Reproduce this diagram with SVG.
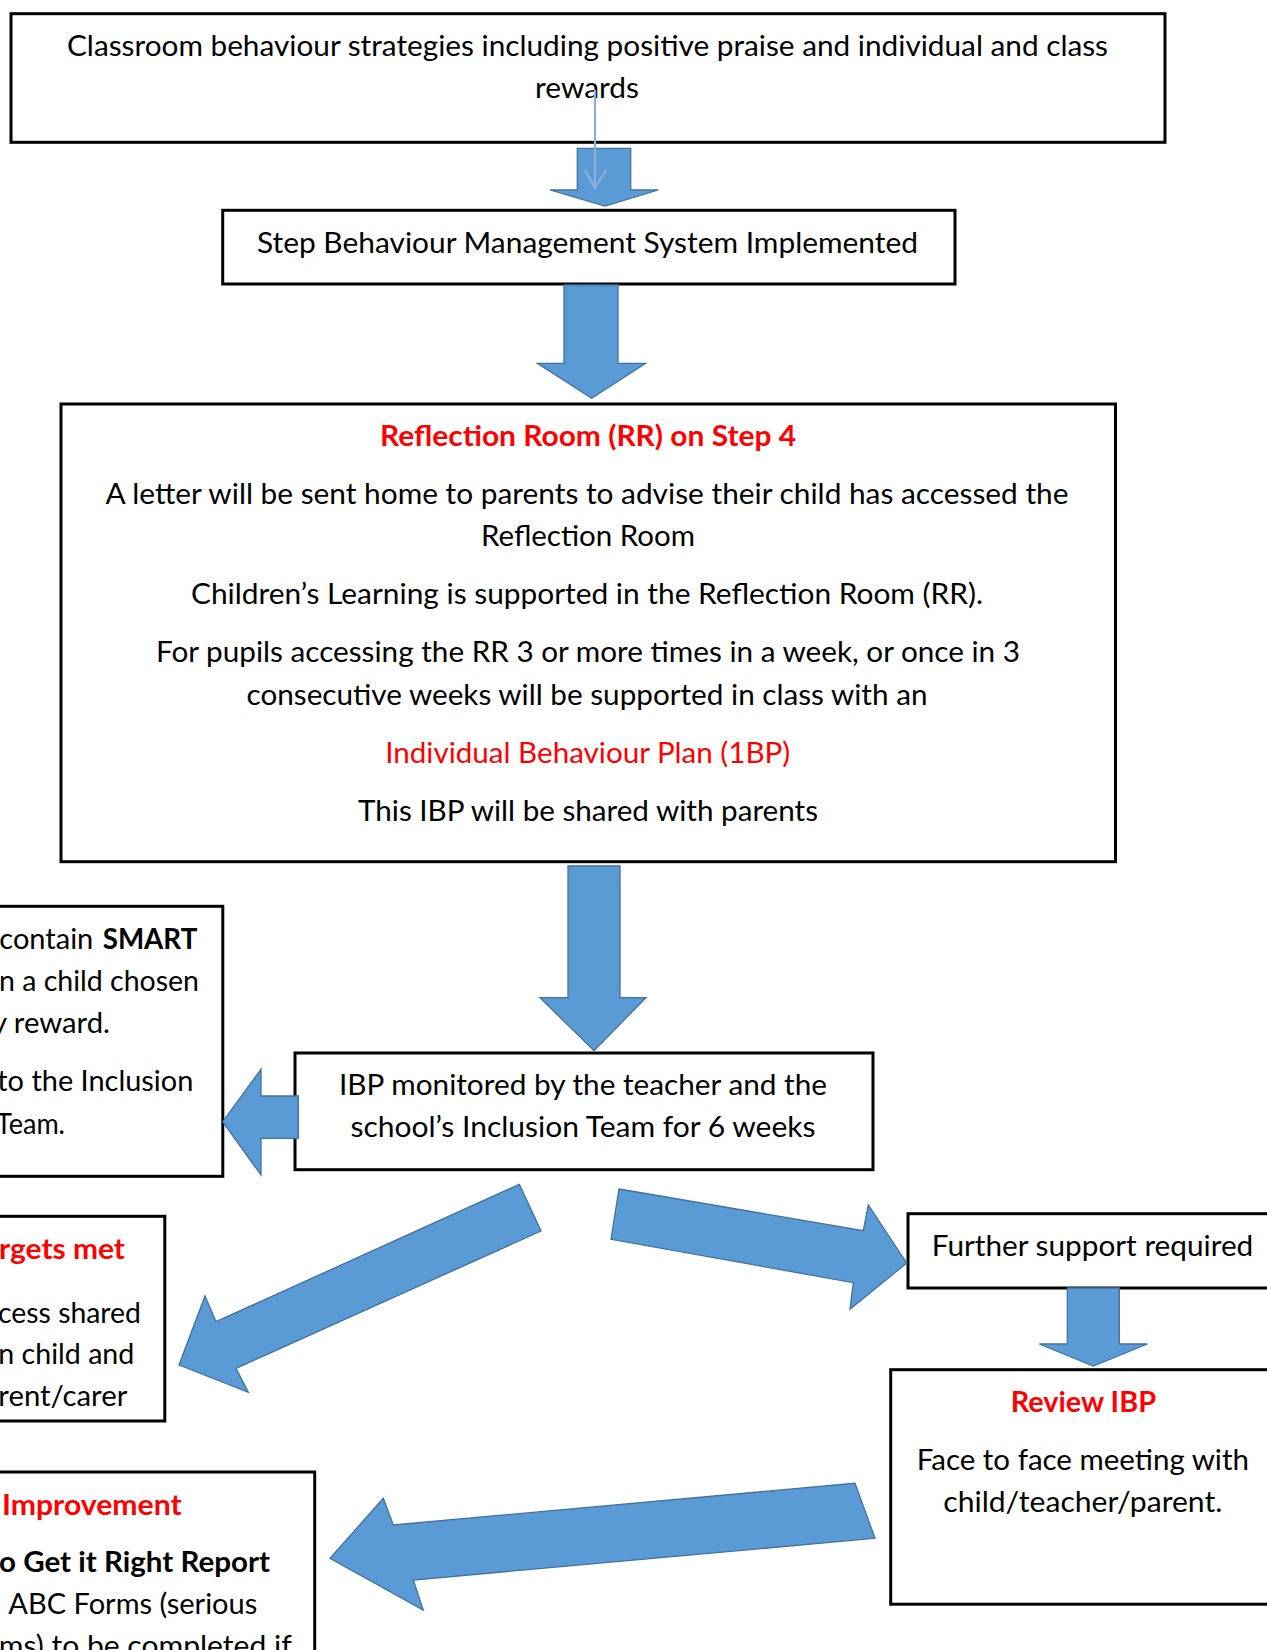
<svg xmlns="http://www.w3.org/2000/svg" width="1267" height="1650" viewBox="0 0 1267 1650">
<defs>
<style>
.box{fill:#fff;stroke:#000;stroke-width:3}
.t{font-family:Lato,"Liberation Sans",sans-serif;font-size:29px;fill:#000}
.c{text-anchor:middle}
.e{text-anchor:end}
.b{font-weight:bold}
.r{fill:#ff0000}
.arr{fill:#5b9bd5;stroke:#41719c;stroke-width:1.3;stroke-linejoin:miter}
.thin{fill:none;stroke:#8eaedb;stroke-width:2.2}
</style>
</defs>
<rect width="1267" height="1650" fill="#fff"/>

<g id="node-classroom">
<rect class="box" x="11" y="13.7" width="1154" height="128.6" stroke-width="3.3"/>
<text class="t c" x="587.5" y="56" textLength="1041" lengthAdjust="spacingAndGlyphs">Classroom behaviour strategies including positive praise and individual and class</text>
<text class="t c" x="587" y="97.5" textLength="104" lengthAdjust="spacingAndGlyphs">rewards</text>
</g>

<g id="node-step">
<rect class="box" x="222.7" y="210.3" width="732.3" height="73.7" stroke-width="2.7"/>
<text class="t c" x="587.5" y="252.5" textLength="661" lengthAdjust="spacingAndGlyphs">Step Behaviour Management System Implemented</text>
</g>

<g id="node-reflection">
<rect class="box" x="61" y="404" width="1054.5" height="457.7"/>
<text class="t c b r" x="588" y="445.5" textLength="416" lengthAdjust="spacingAndGlyphs">Reflection Room (RR) on Step 4</text>
<text class="t c" x="587" y="504" textLength="963" lengthAdjust="spacingAndGlyphs">A letter will be sent home to parents to advise their child has accessed the</text>
<text class="t c" x="588" y="546" textLength="214" lengthAdjust="spacingAndGlyphs">Reflection Room</text>
<text class="t c" x="587" y="604" textLength="792" lengthAdjust="spacingAndGlyphs">Children’s Learning is supported in the Reflection Room (RR).</text>
<text class="t c" x="588" y="662" textLength="864" lengthAdjust="spacingAndGlyphs">For pupils accessing the RR 3 or more times in a week, or once in 3</text>
<text class="t c" x="587" y="704.5" textLength="681" lengthAdjust="spacingAndGlyphs">consecutive weeks will be supported in class with an</text>
<text class="t c r" x="587.7" y="762.7" textLength="405" lengthAdjust="spacingAndGlyphs">Individual Behaviour Plan (1BP)</text>
<text class="t c" x="588" y="820.7" textLength="460" lengthAdjust="spacingAndGlyphs">This IBP will be shared with parents</text>
</g>

<g id="node-smart">
<rect class="box" x="-10" y="906.3" width="232.8" height="270" stroke-width="2.5"/>
<text class="t e" x="93.3" y="949.3" textLength="94" lengthAdjust="spacingAndGlyphs">contain</text>
<text class="t b" x="102.7" y="949.3" textLength="94.6" lengthAdjust="spacingAndGlyphs">SMART</text>
<text class="t e" x="199" y="991" textLength="200" lengthAdjust="spacingAndGlyphs">n a child chosen</text>
<text class="t e" x="110" y="1032.5" textLength="118" lengthAdjust="spacingAndGlyphs">y reward.</text>
<text class="t e" x="193.3" y="1091" textLength="196" lengthAdjust="spacingAndGlyphs">to the Inclusion</text>
<text class="t e" x="65" y="1133.5" textLength="69" lengthAdjust="spacingAndGlyphs">Team.</text>
</g>

<g id="node-ibp">
<rect class="box" x="295" y="1053" width="578" height="116.7"/>
<text class="t c" x="583" y="1095" textLength="488" lengthAdjust="spacingAndGlyphs">IBP monitored by the teacher and the</text>
<text class="t c" x="583" y="1137" textLength="465" lengthAdjust="spacingAndGlyphs">school’s Inclusion Team for 6 weeks</text>
</g>

<g id="node-targets">
<rect class="box" x="-10" y="1216.3" width="174.8" height="204.7"/>
<text class="t e b r" x="125" y="1258.5" textLength="126" lengthAdjust="spacingAndGlyphs">rgets met</text>
<text class="t e" x="141" y="1322.5" textLength="143" lengthAdjust="spacingAndGlyphs">cess shared</text>
<text class="t e" x="134.3" y="1364" textLength="136" lengthAdjust="spacingAndGlyphs">n child and</text>
<text class="t e" x="127.3" y="1405.5" textLength="129" lengthAdjust="spacingAndGlyphs">rent/carer</text>
</g>

<g id="node-further">
<rect class="box" x="908" y="1213.7" width="380" height="74.3"/>
<text class="t" x="931.7" y="1256" textLength="321.6" lengthAdjust="spacingAndGlyphs">Further support required</text>
</g>

<g id="node-review">
<rect class="box" x="890.7" y="1369.7" width="400" height="234.5"/>
<text class="t b r" x="1010.7" y="1412" textLength="145.3" lengthAdjust="spacingAndGlyphs">Review IBP</text>
<text class="t" x="916.7" y="1469.5" textLength="332.3" lengthAdjust="spacingAndGlyphs">Face to face meeting with</text>
<text class="t" x="943.3" y="1512" textLength="279" lengthAdjust="spacingAndGlyphs">child/teacher/parent.</text>
</g>

<g id="node-improvement">
<rect class="box" x="-10" y="1472" width="324.7" height="200"/>
<text class="t b r" x="2" y="1514.5" textLength="179.7" lengthAdjust="spacingAndGlyphs">Improvement</text>
<text class="t e b" x="270" y="1572" textLength="271" lengthAdjust="spacingAndGlyphs">o Get it Right Report</text>
<text class="t" x="8.3" y="1614" textLength="249" lengthAdjust="spacingAndGlyphs">ABC Forms (serious</text>
<text class="t e" x="291.7" y="1655.5" textLength="293" lengthAdjust="spacingAndGlyphs">ms) to be completed if</text>
</g>

<g id="connectors">
<polygon class="arr" points="577.3,148.3 630.7,148.3 630.7,190 658.3,190 605,206 550,190 577.3,190"/>
<polyline class="thin" points="595,90 595,188"/>
<polyline class="thin" points="585,170 595,188 606,170" stroke-linejoin="round"/>
<polygon class="arr" points="564,285 618,285 618,363.3 645.5,363.3 591.7,398.3 537.5,363.3 564,363.3"/>
<polygon class="arr" points="568,866 620,866 620,997.7 646,997.7 594,1050.7 540,997.7 568,997.7"/>
<polygon class="arr" points="298.3,1096 261,1096 261,1069.3 222.7,1121.7 261,1175 261,1138.3 298.3,1138.3"/>
<polygon class="arr" points="519.3,1184.3 541,1231 236,1368.3 248.3,1392.3 179,1365 205,1296 216,1321.7"/>
<polygon class="arr" points="619,1189 863.3,1230.7 868.3,1205 906.7,1263 850,1309.3 853.3,1282.7 611,1239.3"/>
<polygon class="arr" points="1067.3,1288 1119.3,1288 1119.3,1344 1147.3,1344 1093.3,1366 1039.3,1344 1067.3,1344"/>
<polygon class="arr" points="855,1483.3 875,1538.3 413.3,1580 423.3,1610 330,1558.3 383.3,1498.3 393.3,1525"/>
</g>
</svg>
